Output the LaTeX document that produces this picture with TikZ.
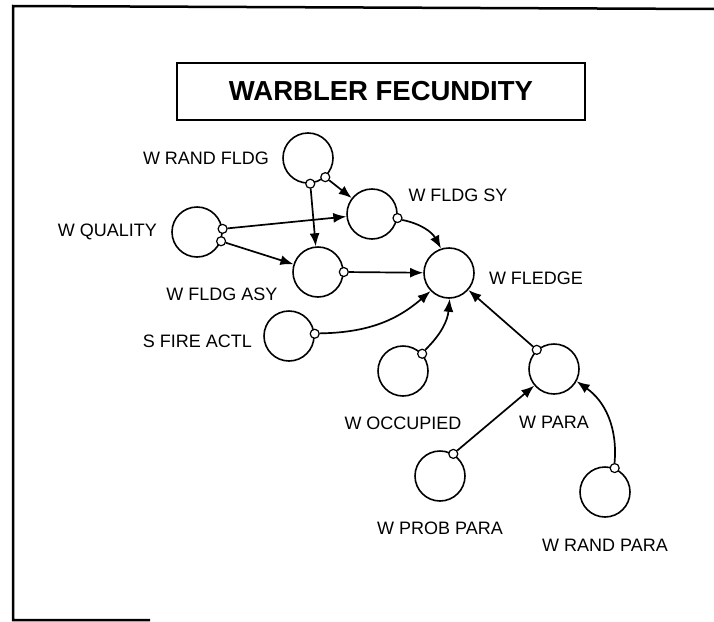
\documentclass[tikz,border=0pt]{standalone}
\usepackage{fontspec}
\setmainfont{Liberation Sans}
\usetikzlibrary{arrows.meta,positioning}
\begin{document}
\begin{tikzpicture}[x=1pt,y=-1pt,font=\fontsize{18}{20}\selectfont,
 aux/.style={draw,circle,line width=1.6pt,minimum size=50pt,inner sep=0pt},
 tap/.style={draw,circle,line width=1.2pt,fill=white,minimum size=9pt,inner sep=0pt},
 lbl/.style={inner sep=0pt},
 arr/.style={-{Latex[length=13pt,width=10pt]},line width=1.7pt}]
\useasboundingbox (0,0) rectangle (714,621);
\draw[line width=2.5pt] (714,9) -- (13,6) -- (13,620) -- (150,620);
\node[draw,line width=1.5pt,minimum width=408pt,minimum height=57pt,
 font=\fontsize{27.5}{30}\selectfont\bfseries] (title) at (381,91.5) {WARBLER FECUNDITY};
% auxiliaries
\node[aux] (wrandfldg) at (308,158) {};
\node[aux] (wfldgsy) at (372,214) {};
\node[aux] (wquality) at (197,232) {};
\node[aux] (wfldgasy) at (318,272) {};
\node[aux] (wfledge) at (449,273) {};
\node[aux] (sfireactl) at (289,336) {};
\node[aux] (woccupied) at (403,371) {};
\node[aux] (wpara) at (554,369) {};
\node[aux] (wprobpara) at (440,476) {};
\node[aux] (wrandpara) at (605,492) {};
% names
\node[lbl,left=13pt of wrandfldg] (wrandfldg-l) {W RAND FLDG};
\node[lbl] (wfldgsy-l) at (458,195) {W FLDG SY};
\node[lbl,left=14pt of wquality] (wquality-l) {W QUALITY};
\node[lbl] (wfldgasy-l) at (222,294) {W FLDG ASY};
\node[lbl,right=14pt of wfledge,yshift=-5pt] (wfledge-l) {W FLEDGE};
\node[lbl,left=11pt of sfireactl,yshift=-5pt] (sfireactl-l) {S FIRE ACTL};
\node[lbl,below=20pt of woccupied] (woccupied-l) {W OCCUPIED};
\node[lbl,below=21pt of wpara] (wpara-l) {W PARA};
\node[lbl,below=20pt of wprobpara] (wprobpara-l) {W PROB PARA};
\node[lbl,below=21pt of wrandpara] (wrandpara-l) {W RAND PARA};
% connector taps
\node[tap] (t-rf1) at (wrandfldg.-48) {};
\node[tap] (t-rf2) at (wrandfldg.-85) {};
\node[tap] (t-wq1) at (wquality.7) {};
\node[tap] (t-wq2) at (wquality.-21) {};
\node[tap] (t-sy) at (wfldgsy.-9) {};
\node[tap] (t-asy) at (wfldgasy.0) {};
\node[tap] (t-fire) at (sfireactl.5) {};
\node[tap] (t-occ) at (woccupied.42) {};
\node[tap] (t-para) at (wpara.132) {};
\node[tap] (t-prob) at (wprobpara.59) {};
\node[tap] (t-rpara) at (wrandpara.68) {};
% connectors
\draw[arr] (t-rf1) -- (wfldgsy);
\draw[arr] (t-rf2) -- (wfldgasy);
\draw[arr] (t-wq1) -- (wfldgsy);
\draw[arr] (t-wq2) -- (wfldgasy);
\draw[arr] (t-sy) to[bend left=25] (wfledge);
\draw[arr] (t-asy) -- (wfledge);
\draw[arr] (t-fire) to[bend right=20] (wfledge);
\draw[arr] (t-occ) to[bend right=20] (wfledge);
\draw[arr] (t-para) -- (wfledge);
\draw[arr] (t-prob) -- (wpara);
\draw[arr] (t-rpara) to[bend right=30] (wpara);
\end{tikzpicture}
\end{document}
